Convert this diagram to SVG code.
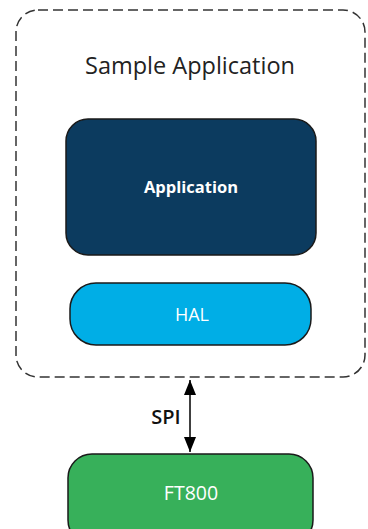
<svg xmlns="http://www.w3.org/2000/svg" width="368" height="529" viewBox="0 0 368 529">
<defs>
<style>
.box{stroke:#1a1a1a;stroke-width:1.5}
.lbl{font-family:"Open Sans","Liberation Sans",sans-serif;text-anchor:middle;fill:#ffffff}
</style>
<marker id="ah" viewBox="0 0 10 12" refX="10" refY="6" markerWidth="15" markerHeight="12" orient="auto-start-reverse" markerUnits="userSpaceOnUse" preserveAspectRatio="none">
<path d="M0,0 L10,6 L0,12 z" fill="#000"/>
</marker>
</defs>
<rect width="368" height="529" fill="#ffffff"/>
<g id="container">
<rect x="16" y="10" width="349" height="367" rx="22" fill="none" stroke="#333" stroke-width="1.5" stroke-dasharray="10,5"/>
<text x="190" y="74" font-family="Open Sans, Liberation Sans, sans-serif" font-size="23.5" fill="#222" text-anchor="middle">Sample Application</text>
</g>
<g id="application">
<rect class="box" x="66" y="119" width="250" height="136" rx="22" fill="#0c3b5f"/>
<text class="lbl" x="191" y="193" font-size="16.5" font-weight="bold">Application</text>
</g>
<g id="hal">
<rect class="box" x="70" y="283" width="241" height="62" rx="26" fill="#00aee6"/>
<text class="lbl" x="192" y="321" font-size="18">HAL</text>
</g>
<g id="ft800">
<rect class="box" x="68" y="454" width="245" height="90" rx="24" fill="#37b05a"/>
<text class="lbl" x="191" y="500" font-size="19.5">FT800</text>
</g>
<g id="connectors">
<line x1="190" y1="380" x2="190" y2="452" stroke="#000" stroke-width="1.5" marker-start="url(#ah)" marker-end="url(#ah)"/>
<text x="166" y="424" font-family="Open Sans, Liberation Sans, sans-serif" font-size="20" font-weight="600" fill="#111" text-anchor="middle">SPI</text>
</g>
</svg>
